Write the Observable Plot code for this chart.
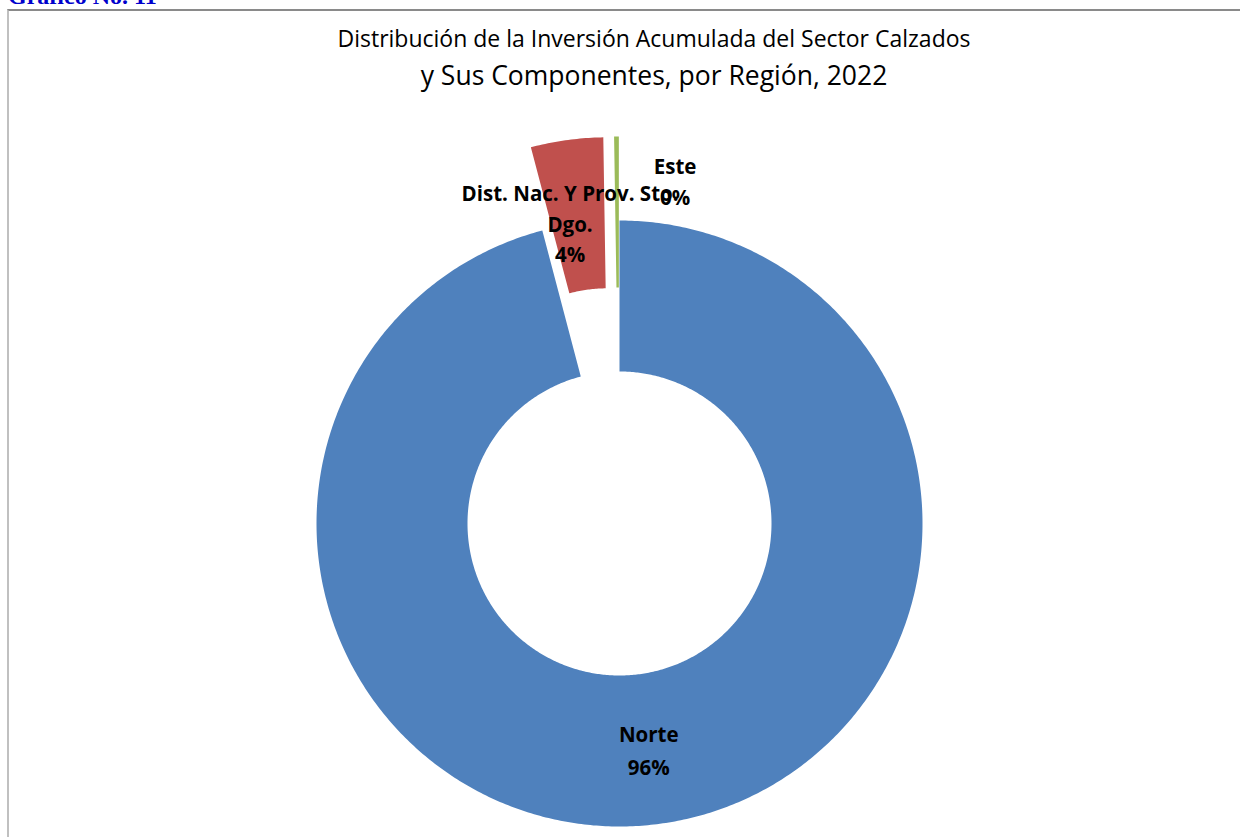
<!DOCTYPE html>
<html>
<head>
<meta charset="utf-8">
<script src="https://cdn.jsdelivr.net/npm/d3@7"></script>
<script src="https://cdn.jsdelivr.net/npm/@observablehq/plot@0.6"></script>
<style>
  html, body { margin: 0; padding: 0; background: #fff; overflow: hidden; }
  body { width: 1240px; height: 837px; position: relative; }
  #grafico { position: absolute; left: 8px; top: -17px; font-family: "Liberation Serif", serif; font-weight: bold; font-size: 24px; color: #0000cc; white-space: nowrap; }
  #frame { position: absolute; left: 7px; top: 9px; width: 1260px; height: 900px; border-top: 2px solid #8a8a8a; border-left: 2px solid #c0c0c0; box-sizing: border-box; }
  #title { position: absolute; left: 34px; top: 21px; width: 1240px; text-align: center; font-family: "Open Sans", sans-serif; color: #000; }
  #t1 { font-size: 23px; line-height: 35px; }
  #t2 { font-size: 26.5px; line-height: 38px; }
  #chart { position: absolute; left: 0; top: 110px; }
</style>
</head>
<body>
<div id="grafico">Gráfico No. 11</div>
<div id="frame"></div>
<div id="title">
  <div id="t1">Distribución de la Inversión Acumulada del Sector Calzados</div>
  <div id="t2">y Sus Componentes, por Región, 2022</div>
</div>
<div id="chart"></div>
<script>
// Data
const regions = ["Norte", "Dist. Nac. Y Prov. Sto. Dgo.", "Este"];
const labelNames = ["Norte", "Dist. Nac. Y Prov. Sto.\nDgo.", "Este"];
const shares = [95.9, 3.85, 0.25];
const exploded = [false, true, true];
const colors = ["#4F81BD", "#C0504D", "#9BBB59"];

// Geometry settings
const W = 1240, H = 727;
const cx = 619, cyPage = 523, svgTop = 110;
const cy = cyPage - svgTop;
const rOuter = 303, rInner = 152, explode = 84;

const total = d3.sum(shares);
const pie = d3.pie().sort(null).value(d => d.value)(
  regions.map((name, i) => ({name, label: labelNames[i], value: shares[i], exploded: exploded[i], i}))
);

// Build polygon points for each slice (data units = pixels relative to pie centre, y up)
const polys = [];
const labels = [];
for (const p of pie) {
  const d = p.data;
  const mid = (p.startAngle + p.endAngle) / 2;
  const off = d.exploded ? explode : 0;
  const ox = off * Math.sin(mid), oy = off * Math.cos(mid);
  const n = Math.max(4, Math.ceil((p.endAngle - p.startAngle) / 0.01));
  for (let k = 0; k <= n; k++) {
    const a = p.startAngle + (p.endAngle - p.startAngle) * k / n;
    polys.push({name: d.name, x: ox + rOuter * Math.sin(a), y: oy + rOuter * Math.cos(a)});
  }
  for (let k = n; k >= 0; k--) {
    const a = p.startAngle + (p.endAngle - p.startAngle) * k / n;
    polys.push({name: d.name, x: ox + rInner * Math.sin(a), y: oy + rInner * Math.cos(a)});
  }
  const rm = (rOuter + rInner) / 2;
  labels.push({
    name: d.name,
    text: d.label + "\n" + d3.format(".0f")(d.value / total * 100) + "%",
    x: ox + rm * Math.sin(mid),
    y: oy + rm * Math.cos(mid),
    i: d.i
  });
}

const labelOffsets = [{dx: 0, dy: -1}, {dx: -7, dy: 7}, {dx: 58, dy: -32}];

const marks = [
  Plot.line(polys, {x: "x", y: "y", z: "name", fill: "name", stroke: null, curve: "linear"})
];
labels.forEach((l, j) => {
  marks.push(Plot.text([l], {
    x: "x", y: "y", text: "text",
    dx: labelOffsets[l.i].dx, dy: labelOffsets[l.i].dy,
    fontFamily: "Open Sans", fontWeight: "bold", fontSize: 20.5,
    lineHeight: l.i === 0 ? 1.6 : 1.5, fill: "#000", textAnchor: "middle"
  }));
});

const chart = Plot.plot({
  width: W, height: H,
  margin: 0,
  x: {domain: [-cx, W - cx], range: [0, W], axis: null},
  y: {domain: [-(H - cy), cy], range: [H, 0], axis: null},
  color: {domain: regions, range: colors},
  style: {background: "transparent", overflow: "visible"},
  marks
});
document.getElementById("chart").appendChild(chart);
</script>
</body>
</html>
